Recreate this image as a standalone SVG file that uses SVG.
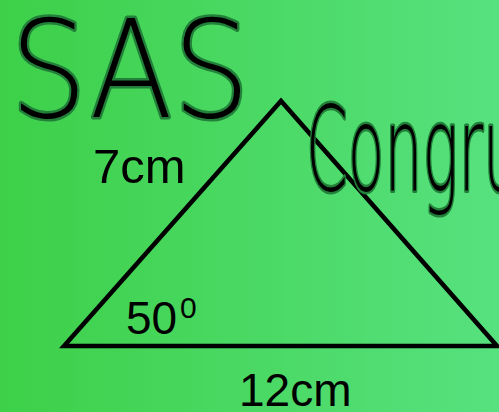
<svg xmlns="http://www.w3.org/2000/svg" width="499" height="412" viewBox="0 0 499 412">
<defs>
<linearGradient id="bg" x1="0" y1="0" x2="1" y2="0">
<stop offset="0" stop-color="#3dd048"/>
<stop offset="1" stop-color="#57e17f"/>
</linearGradient>
</defs>
<style>
.lbl{font-family:"Liberation Sans",Arial,sans-serif;fill:#000}
.hw{font-family:"DejaVu Sans",sans-serif;font-weight:200;fill:#000;stroke:#23803a;stroke-width:5;stroke-linejoin:round;paint-order:stroke}
</style>
<rect width="499" height="412" fill="url(#bg)"/>
<g id="title">
<text class="hw" x="10" y="117" font-size="135" textLength="240" lengthAdjust="spacingAndGlyphs">SAS</text>
</g>
<g id="triangle">
<polygon points="64,346 281,101 497,346" fill="none" stroke="#000" stroke-width="4.5" stroke-linejoin="miter"/>
</g>
<g id="congruent">
<text class="hw" x="306" y="190" font-size="118" textLength="215" lengthAdjust="spacingAndGlyphs">Congru</text>
</g>
<g id="labels">
<text class="lbl" x="93" y="183" font-size="49">7cm</text>
<text class="lbl" x="126" y="334" font-size="46">50</text>
<text class="lbl" x="180" y="318" font-size="30">0</text>
<text class="lbl" x="239" y="406" font-size="46">12cm</text>
</g>
</svg>
